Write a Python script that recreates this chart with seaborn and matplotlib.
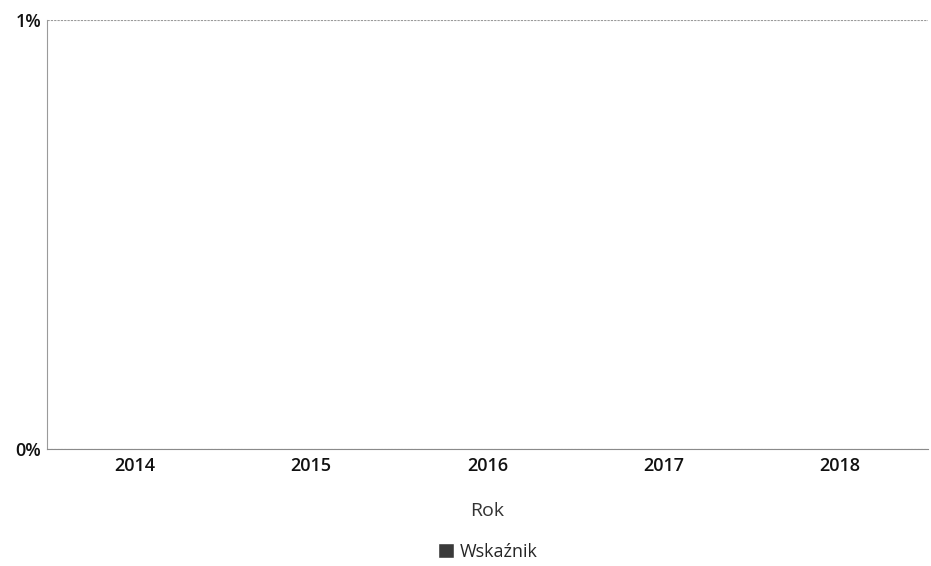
import matplotlib.pyplot as plt
import seaborn as sns
import pandas as pd
from matplotlib.ticker import PercentFormatter

# dane
years = ["2014", "2015", "2016", "2017", "2018"]
values = [0.0, 0.0, 0.0, 0.0, 0.0]
series_name = "Wskaźnik"

sns.set_style("white")
plt.rcParams["font.family"] = ["Open Sans", "DejaVu Sans"]

df = pd.DataFrame({"Rok": years, "value": values})

fig = plt.figure(figsize=(9.31, 5.66), dpi=100)
ax = fig.add_axes([0.0505, 0.207, 0.946, 0.758])

sns.barplot(data=df, x="Rok", y="value", color="#3a3a3a", label=series_name, ax=ax)

ax.set_ylim(0, 0.01)
ax.set_yticks([0, 0.01])
ax.yaxis.set_major_formatter(PercentFormatter(xmax=1, decimals=0))
ax.grid(axis="y", color="#9a9a9a", linestyle=(0, (2, 1)), linewidth=0.8)
ax.set_axisbelow(True)

for s in ["top", "right"]:
    ax.spines[s].set_visible(False)
ax.spines["left"].set_color("#9a9a9a")
ax.spines["left"].set_linestyle((0, (1, 1)))
ax.spines["left"].set_linewidth(0.8)
ax.spines["bottom"].set_color("#8a8a8a")
ax.spines["bottom"].set_linestyle((0, (3, 1)))
ax.spines["bottom"].set_linewidth(0.8)

ax.tick_params(axis="both", length=0, labelsize=13, pad=6)
ax.tick_params(axis="y", pad=4)
for lab in ax.get_xticklabels() + ax.get_yticklabels():
    lab.set_fontweight("semibold")
    lab.set_color("#111111")

ax.set_xlabel("Rok", fontsize=14, color="#333333", labelpad=19)
ax.set_ylabel("")

ax.legend(loc="center", bbox_to_anchor=(0.5, -0.24), frameon=False,
          fontsize=13, handlelength=0.9, handleheight=0.9, handletextpad=0.3)

fig.savefig("out.png", dpi=100)
